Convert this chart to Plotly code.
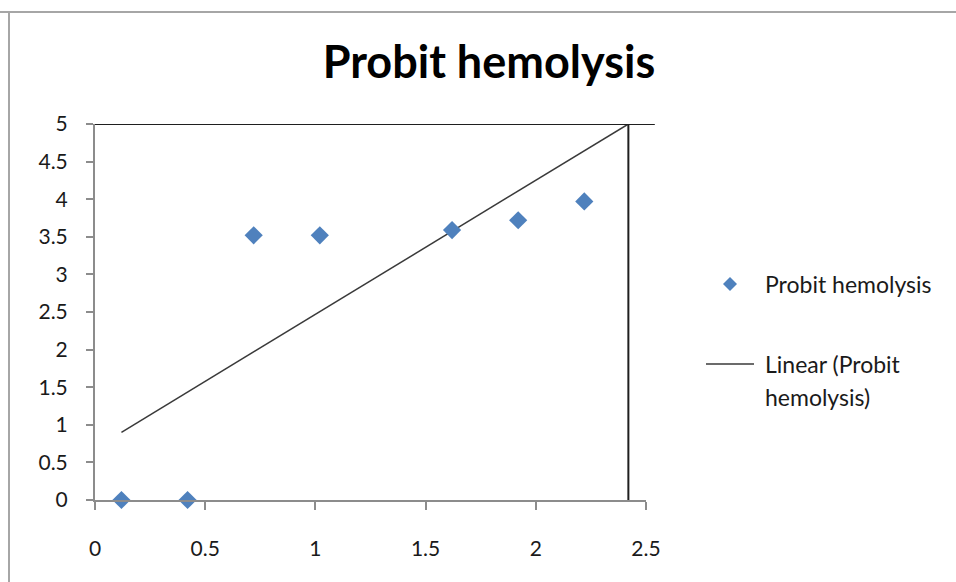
import plotly.graph_objects as go

# Observed data
log_dose = [0.12, 0.42, 0.72, 1.02, 1.62, 1.92, 2.22]
probit = [0.0, 0.0, 3.52, 3.52, 3.59, 3.72, 3.97]

# Linear trendline (forecast forward to the reference line)
trend_x = [0.12, 2.42]
trend_y = [0.90, 5.00]

# Reference lines: probit 5 level and the dose where the trend reaches it
ref_level = 5.0
ref_dose = 2.42
ref_level_end = 2.54

x_ticks = [0, 0.5, 1, 1.5, 2, 2.5]
y_ticks = [0, 0.5, 1, 1.5, 2, 2.5, 3, 3.5, 4, 4.5, 5]

FONT = "Lato, 'Open Sans', sans-serif"
BLUE = "#4f81bd"
AXIS = "#8c8c8c"
TEXT = "#1a1a1a"

X_MAX = 2.5
Y_MAX = 5.0

fig = go.Figure()

fig.add_trace(go.Scatter(
    x=trend_x, y=trend_y, mode="lines",
    line=dict(color="#3a3a3a", width=1.5),
    name="Linear (Probit hemolysis)", showlegend=False, hoverinfo="skip",
))
fig.add_trace(go.Scatter(
    x=[ref_dose, ref_dose], y=[0, ref_level], mode="lines",
    line=dict(color="#1f1f1f", width=2),
    showlegend=False, hoverinfo="skip",
))
fig.add_trace(go.Scatter(
    x=log_dose, y=probit, mode="markers",
    marker=dict(symbol="diamond", size=14, color=BLUE),
    name="Probit hemolysis", showlegend=False, cliponaxis=False,
))

# Horizontal probit-5 line runs slightly past the x-axis end
fig.add_shape(type="line", xref="paper", yref="y",
              x0=0, x1=ref_level_end / X_MAX, y0=ref_level, y1=ref_level,
              line=dict(color="#1f1f1f", width=2), layer="above")

# Chart frame (top and left edges)
fig.add_shape(type="line", xref="paper", yref="paper",
              x0=-95 / 551, x1=(956 - 95) / 551 + 0.01, y0=(500 - 12) / 376, y1=(500 - 12) / 376,
              line=dict(color="#a6a6a6", width=2))
fig.add_shape(type="line", xref="paper", yref="paper",
              x0=-86 / 551, x1=-86 / 551, y0=(500 - 12) / 376, y1=-0.3,
              line=dict(color="#a6a6a6", width=2))

# Legend drawn manually
pw, ph = 551.0, 376.0
lx, ly = (730 - 95) / pw, (500 - 284) / ph
dx, dy = 7 / pw, 7 / ph
fig.add_shape(type="path", xref="paper", yref="paper",
              path=f"M {lx - dx} {ly} L {lx} {ly + dy} L {lx + dx} {ly} L {lx} {ly - dy} Z",
              fillcolor=BLUE, line=dict(width=0))
ly2 = (500 - 364) / ph
fig.add_shape(type="line", xref="paper", yref="paper",
              x0=(706 - 95) / pw, x1=(754 - 95) / pw, y0=ly2, y1=ly2,
              line=dict(color="#3a3a3a", width=1.5))
tx = (763 - 95) / pw
for txt, ypx in [("Probit hemolysis", 284), ("Linear (Probit", 364), ("hemolysis)", 397)]:
    fig.add_annotation(xref="paper", yref="paper", x=tx, y=(500 - ypx) / ph,
                       text=txt, showarrow=False, xanchor="left", yanchor="middle",
                       font=dict(family=FONT, size=23, color=TEXT))

fig.update_layout(
    width=956, height=582,
    margin=dict(l=95, r=310, t=124, b=82),
    paper_bgcolor="white", plot_bgcolor="white",
    showlegend=False,
    title=dict(text="<b>Probit hemolysis</b>", x=(489 - 95) / pw, xref="paper",
               xanchor="center", y=1 - 62 / 582, yanchor="middle",
               font=dict(family=FONT, size=45, color="black")),
    font=dict(family=FONT, size=21, color=TEXT),
)
fig.update_xaxes(range=[0, X_MAX], tickvals=x_ticks, ticktext=[f"{v:g}" for v in x_ticks],
                 showgrid=False, zeroline=False, showline=True, linecolor=AXIS, linewidth=2,
                 ticks="outside", ticklen=8, tickwidth=2, tickcolor=AXIS,
                 ticklabelstandoff=21, fixedrange=True)
fig.update_yaxes(range=[0, Y_MAX], tickvals=y_ticks, ticktext=[f"{v:g}" for v in y_ticks],
                 showgrid=False, zeroline=False, showline=True, linecolor=AXIS, linewidth=2,
                 ticks="outside", ticklen=7, tickwidth=2, tickcolor=AXIS,
                 ticklabelstandoff=14, fixedrange=True)

fig.write_html("out.html", config={"displayModeBar": False})
